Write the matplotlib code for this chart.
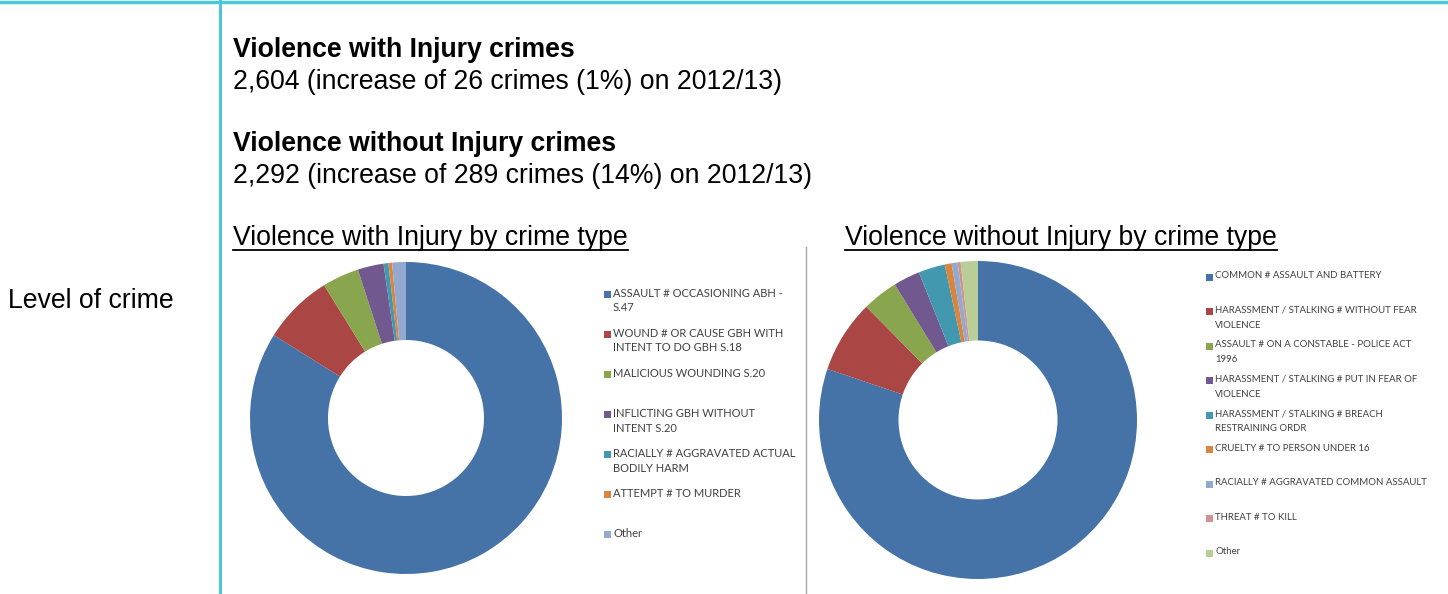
import matplotlib
matplotlib.use("Agg")
import matplotlib.pyplot as plt
from matplotlib.lines import Line2D
from matplotlib.patches import Rectangle

W, H = 1448, 594

# data
inj_labels = [
    "ASSAULT # OCCASIONING ABH -\nS.47",
    "WOUND # OR CAUSE GBH WITH\nINTENT TO DO GBH S.18",
    "MALICIOUS WOUNDING S.20",
    "INFLICTING GBH WITHOUT\nINTENT S.20",
    "RACIALLY # AGGRAVATED ACTUAL\nBODILY HARM",
    "ATTEMPT # TO MURDER",
    "Other",
]
inj_values = [2185, 190, 99, 70, 13, 10, 37]

noinj_labels = [
    "COMMON # ASSAULT AND BATTERY",
    "HARASSMENT / STALKING # WITHOUT FEAR\nVIOLENCE",
    "ASSAULT # ON A CONSTABLE - POLICE ACT\n1996",
    "HARASSMENT / STALKING # PUT IN FEAR OF\nVIOLENCE",
    "HARASSMENT / STALKING # BREACH\nRESTRAINING ORDR",
    "CRUELTY # TO PERSON UNDER 16",
    "RACIALLY # AGGRAVATED COMMON ASSAULT",
    "THREAT # TO KILL",
    "Other",
]
noinj_values = [1839, 170, 83, 62, 62, 16, 14, 7, 40]

colors = ["#4572A7", "#AA4643", "#89A54E", "#71588F", "#4198AF",
          "#DB843D", "#93A9CF", "#D19392", "#B9CD96"]

headings = [
    ("Violence with Injury crimes", "2,604 (increase of 26 crimes (1%) on 2012/13)"),
    ("Violence without Injury crimes", "2,292 (increase of 289 crimes (14%) on 2012/13)"),
]

fig = plt.figure(figsize=(W / 100, H / 100), dpi=100)
fx = lambda x: x / W
fy = lambda y: 1 - y / H

cyan = "#4DC7D6"
fig.add_artist(Line2D([0, 1], [fy(1.5), fy(1.5)], color=cyan, lw=2.5))
fig.add_artist(Line2D([fx(220), fx(220)], [0, 1], color=cyan, lw=2.2))
fig.add_artist(Line2D([fx(806), fx(806)], [0, fy(247)], color="#a6a6a6", lw=1))

main_font = "Liberation Sans"
fs = 19.2
fig.text(fx(8), fy(308), "Level of crime", fontsize=fs, family=main_font, va="baseline")

for i, (t, s) in enumerate(headings):
    y0 = 57 + i * 94
    fig.text(fx(233), fy(y0), t, fontsize=fs, family=main_font, weight="bold", va="baseline")
    fig.text(fx(233), fy(y0 + 32), s, fontsize=fs, family=main_font, va="baseline")

renderer = fig.canvas.get_renderer()
for x, t in [(233, "Violence with Injury by crime type"), (845, "Violence without Injury by crime type")]:
    txt = fig.text(fx(x), fy(245), t, fontsize=fs, family=main_font, va="baseline")
    bb = txt.get_window_extent(renderer)
    fig.add_artist(Line2D([bb.x0 / W, bb.x1 / W], [fy(250), fy(250)], color="black", lw=1.3))


def donut(cx, cy, r, values, labels, leg_x, leg_y0, leg_step, leg_fs, lsp):
    ax = fig.add_axes([fx(cx - r), fy(cy + r), 2 * r / W, 2 * r / H])
    ax.pie(values, colors=colors[:len(values)], startangle=90, counterclock=False,
           wedgeprops=dict(width=0.5, edgecolor="none"))
    ax.set_xlim(-1, 1)
    ax.set_ylim(-1, 1)
    for i, lab in enumerate(labels):
        y = leg_y0 + i * leg_step
        fig.add_artist(Rectangle((fx(leg_x), fy(y + 3.5)), 7 / W, 7 / H,
                                 facecolor=colors[i], edgecolor="none"))
        fig.text(fx(leg_x + 9), fy(y - leg_fs * 0.8), lab, fontsize=leg_fs, family="Lato",
                 color="#404040", va="top", linespacing=lsp)


donut(406, 418, 156, inj_values, inj_labels, 604, 294, 40.1, 8.0, 1.4)
donut(978, 420, 159, noinj_values, noinj_labels, 1206, 277, 34.5, 6.9, 1.8)

fig.savefig("out.png", dpi=100)
